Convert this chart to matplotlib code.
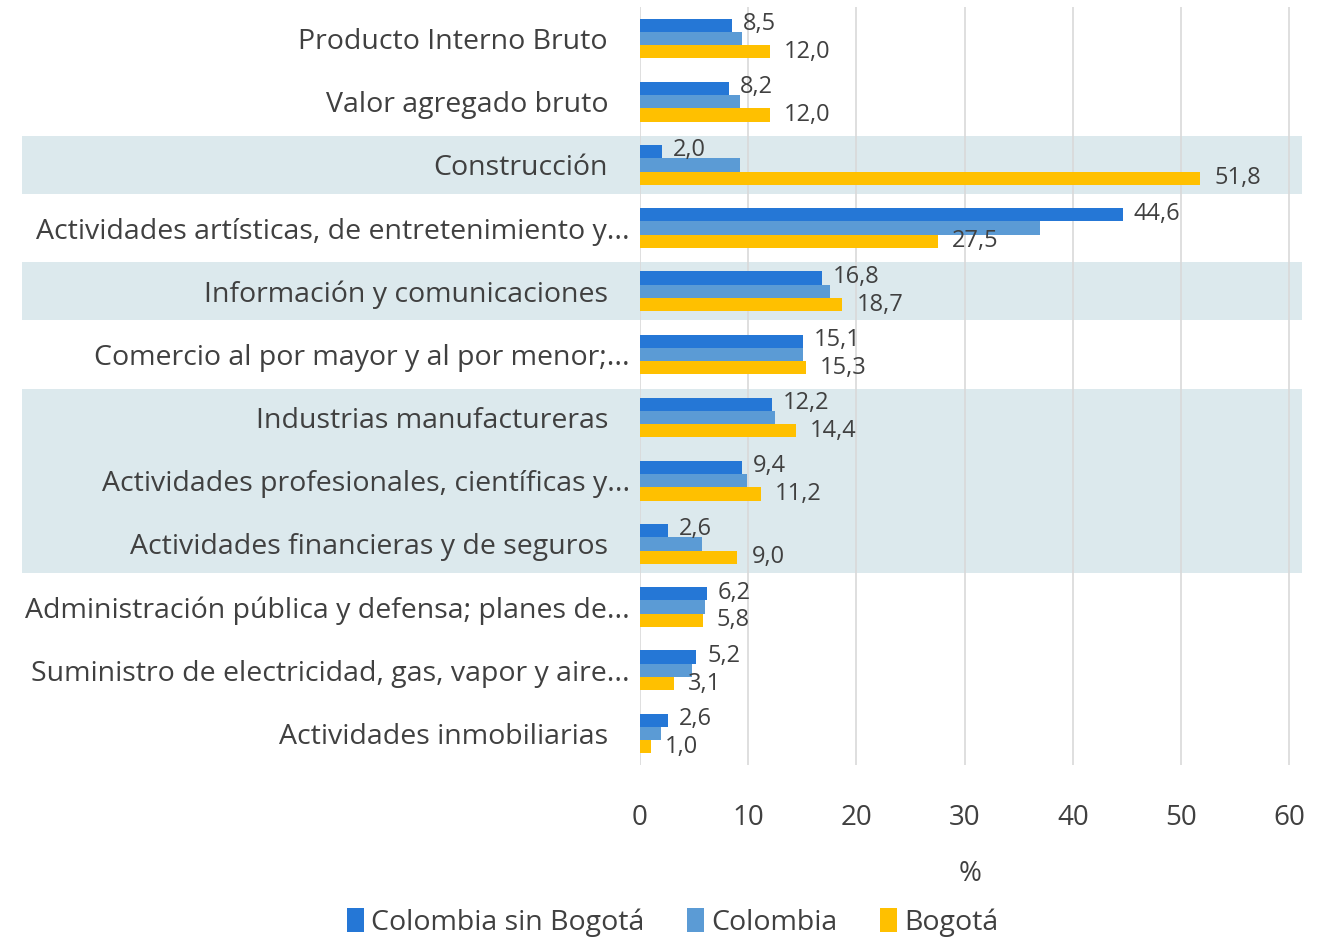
import numpy as np
import matplotlib
matplotlib.use('Agg')
import matplotlib.pyplot as plt
import matplotlib.transforms as mtransforms
from matplotlib.patches import Rectangle

## data (top to bottom)
categorias = ['Producto Interno Bruto',
              'Valor agregado bruto',
              'Construcción',
              'Actividades artísticas, de entretenimiento y...',
              'Información y comunicaciones',
              'Comercio al por mayor y al por menor;...',
              'Industrias manufactureras',
              'Actividades profesionales, científicas y...',
              'Actividades financieras y de seguros',
              'Administración pública y defensa; planes de...',
              'Suministro de electricidad, gas, vapor y aire...',
              'Actividades inmobiliarias']
col_sin_bog = [8.5, 8.2, 2.0, 44.6, 16.8, 15.1, 12.2, 9.4, 2.6, 6.2, 5.2, 2.6]
colombia = [9.4, 9.2, 9.2, 37.0, 17.6, 15.1, 12.5, 9.9, 5.7, 6.0, 4.8, 1.9]
bogota = [12.0, 12.0, 51.8, 27.5, 18.7, 15.3, 14.4, 11.2, 9.0, 5.8, 3.1, 1.0]
## rows with shaded background: (first row, last row)
bandas = [(2, 2), (4, 4), (6, 8)]

c_dark = '#2577d6'
c_light = '#5b9bd5'
c_yel = '#ffc000'
txt = '#404040'
plt.rcParams['font.family'] = ['Open Sans', 'DejaVu Sans']

fig = plt.figure(figsize=(13.24, 9.39), dpi=100)
ax = fig.add_axes([640/1324, 1-765/939, 660/1324, 758/939])
ax.set_facecolor('none')

y = np.arange(len(categorias))
h = 0.21
ax.barh(y - h, col_sin_bog, h, color=c_dark, label='Colombia sin Bogotá', zorder=3)
ax.barh(y, colombia, h, color=c_light, label='Colombia', zorder=3)
ax.barh(y + h, bogota, h, color=c_yel, label='Bogotá', zorder=3)

## value labels
for i in range(len(categorias)):
    ax.text(col_sin_bog[i] + 1.0, y[i] - h - 0.02, f'{col_sin_bog[i]:.1f}'.replace('.', ','),
            va='center', ha='left', fontsize=17, color=txt, zorder=4)
    ax.text(bogota[i] + 1.3, y[i] + h, f'{bogota[i]:.1f}'.replace('.', ','),
            va='center', ha='left', fontsize=17, color=txt, zorder=4)

## shaded bands spanning labels and plot
tr = mtransforms.blended_transform_factory(fig.transFigure, ax.transData)
for a, b in bandas:
    r = Rectangle((22/1324, a - 0.46), (1302-22)/1324, (b - a) + 0.92,
                  transform=tr, facecolor='#dce9ed', edgecolor='none',
                  zorder=0, clip_on=False)
    ax.add_patch(r)

## category labels (truncated ones sit a bit further right, like excel)
tl = mtransforms.blended_transform_factory(ax.transAxes, ax.transData)
for i, c in enumerate(categorias):
    dx = -10 if c.endswith('...') else -32
    ax.text(0, y[i], c, transform=tl + mtransforms.ScaledTranslation(dx/100, 0, fig.dpi_scale_trans),
            ha='right', va='center_baseline', fontsize=20.5, color=txt)

ax.set_xlim(0, 61)
ax.set_ylim(len(categorias) - 0.5, -0.5)
ax.set_xticks(np.arange(0, 61, 10))
ax.set_yticks([])
ax.tick_params(axis='x', length=0, pad=28, labelsize=20, labelcolor=txt)
ax.grid(axis='x', color='#d9d9d9', linewidth=1.2, zorder=1)
for s in ax.spines.values():
    s.set_visible(False)
ax.set_xlabel('%', fontsize=20, color=txt, labelpad=20)

leg = fig.legend(loc='lower center', bbox_to_anchor=(0.508, -0.025), ncol=3,
                 frameon=False, fontsize=20.5, handlelength=0.6, handleheight=0.9,
                 handletextpad=0.25, columnspacing=1.5)
for t in leg.get_texts():
    t.set_color(txt)

plt.savefig('out.png', dpi=100)
